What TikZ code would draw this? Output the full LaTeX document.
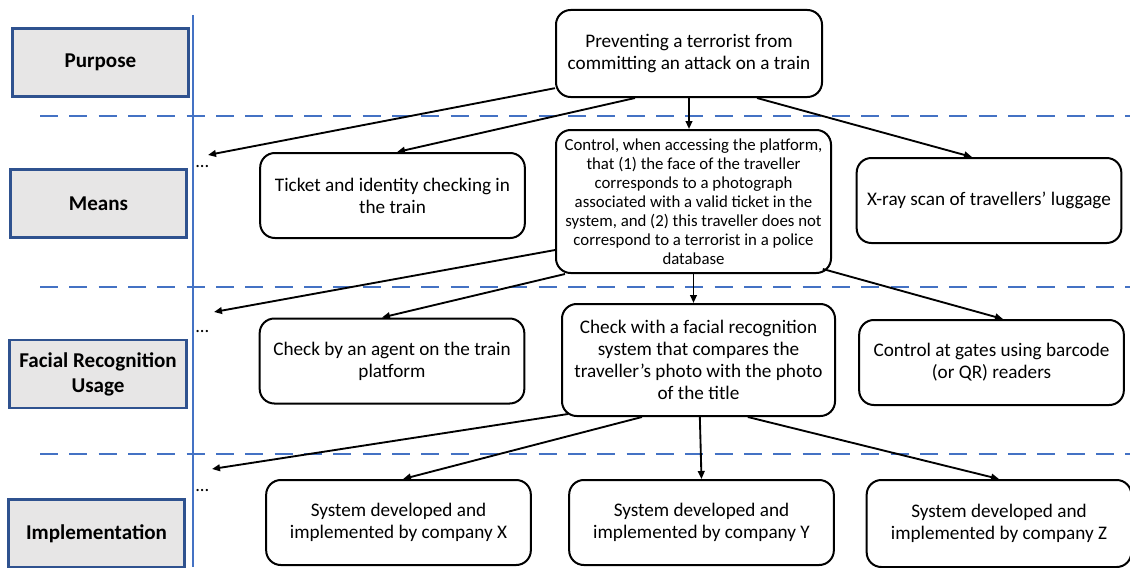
\documentclass[tikz,border=0pt]{standalone}
\usepackage{fontspec}
\setmainfont{Carlito}
\usepackage{xcolor}
\usetikzlibrary{arrows.meta,positioning}
\definecolor{laneblue}{HTML}{2F528F}
\definecolor{lanefill}{HTML}{E7E6E6}
\definecolor{sepblue}{HTML}{4472C4}

\begin{document}
\begin{tikzpicture}[
  x=0.75pt, y=-0.75pt,
  >={Triangle[length=6pt,width=5pt]},
  lane/.style={draw=laneblue, line width=2.2pt, fill=lanefill, align=center, minimum width=132.5pt, minimum height=51pt, inner sep=1pt, font=\fontsize{15.8}{18.75}\selectfont\bfseries},
  box/.style={draw=black, line width=1.5pt, rounded corners=11pt, fill=white, align=center, minimum width=198.5pt, minimum height=63.75pt, inner sep=2pt, font=\fontsize{14.4}{16.5}\selectfont},
  arr/.style={->, line width=1.4pt, draw=black},
  sep/.style={draw=sepblue, line width=2.2pt, dash pattern=on 13.5pt off 8.5pt},
  dots/.style={anchor=west, inner sep=0pt, font=\fontsize{14}{14}\selectfont}
]
\useasboundingbox (0,0) rectangle (1130,567);

% level separators
\coordinate (s1w) at (40,116);  \coordinate (s1e) at (1130,116);
\coordinate (s2w) at (40,287);  \coordinate (s2e) at (1130,287);
\coordinate (s3w) at (40,454);  \coordinate (s3e) at (1130,454);
\coordinate (vtop) at (193,15); \coordinate (vbot) at (193,567);
\draw[sep] (s1w) -- (s1e);
\draw[sep] (s2w) -- (s2e);
\draw[sep] (s3w) -- (s3e);
\draw[draw=sepblue, line width=1.6pt] (vtop) -- (vbot);

\node[lane] (purpose) at (100.5,62.5) {Purpose};
\node[lane] (means) at (98.5,203.5) {Means};
\node[lane] (usage) at (98,374) {Facial Recognition\\Usage};
\node[lane] (impl) at (96.5,533.5) {Implementation};

\node[box, minimum width=199.5pt, minimum height=65.25pt] (goal) at (689,53.5) {Preventing a terrorist from\\committing an attack on a train};

\node[box] (ticket) at (392.5,195.5) {Ticket and identity checking in\\the train};
\node[box, minimum width=206.25pt, minimum height=107.25pt, inner sep=1pt, font=\fontsize{12.6}{14.25}\selectfont] (control) at (693.5,201.5) {Control, when accessing the platform,\\that (1) the face of the traveller\\corresponds to a photograph\\associated with a valid ticket in the\\system, and (2) this traveller does not\\correspond to a terrorist in a police\\database};
\node[box] (xray) at (989,200.5) {X-ray scan of travellers' luggage};

\node[box] (agent) at (392,361) {Check by an agent on the train\\platform};
\node[box, minimum width=204.75pt, minimum height=84pt] (check) at (698.5,360) {Check with a facial recognition\\system that compares the\\traveller's photo with the photo\\of the title};
\node[box] (gates) at (991.5,362.5) {Control at gates using barcode\\(or QR) readers};

\node[box] (compx) at (398.5,522.5) {System developed and\\implemented by company X};
\node[box] (compy) at (701.5,522.5) {System developed and\\implemented by company Y};
\node[box, minimum height=65.25pt] (compz) at (999,523.5) {System developed and\\implemented by company Z};

% other means, usages and implementations
\node[dots] (mdots) at (195,167) {...};
\node[dots] (udots) at (195,332) {...};
\node[dots] (idots) at (195,491) {...};
\coordinate (mend) at (208,155);
\coordinate (uend) at (214,312);
\coordinate (iend) at (212,469);

\draw[arr] ([yshift=-26pt]goal.west) -- (mend);
\draw[arr] ([xshift=-40.5pt]goal.south) -- ([xshift=3.4pt]ticket.north);
\draw[arr] (goal.south) -- (goal.south |- control.north);
\draw[arr] ([xshift=51pt]goal.south) -- ([xshift=-12.75pt]xray.north);

\draw[arr] ([yshift=-36.4pt]control.west) -- (uend);
\draw[arr] ([xshift=-96.4pt]control.south) -- ([xshift=-7.5pt]agent.north);
\draw[arr] (control.south) -- (control.south |- check.north);
\draw[arr] ([xshift=97pt,yshift=3.75pt]control.south) -- ([xshift=8.6pt]gates.north);

\draw[arr] ([xshift=-97.9pt,yshift=2.25pt]check.south) -- (iend);
\draw[arr] ([xshift=-42.4pt]check.south) -- ([xshift=3.4pt]compx.north);
\draw[arr] ([xshift=1pt]check.south) -- (compy.north);
\draw[arr] ([xshift=37pt]check.south) -- (compz.north);
\end{tikzpicture}
\end{document}
